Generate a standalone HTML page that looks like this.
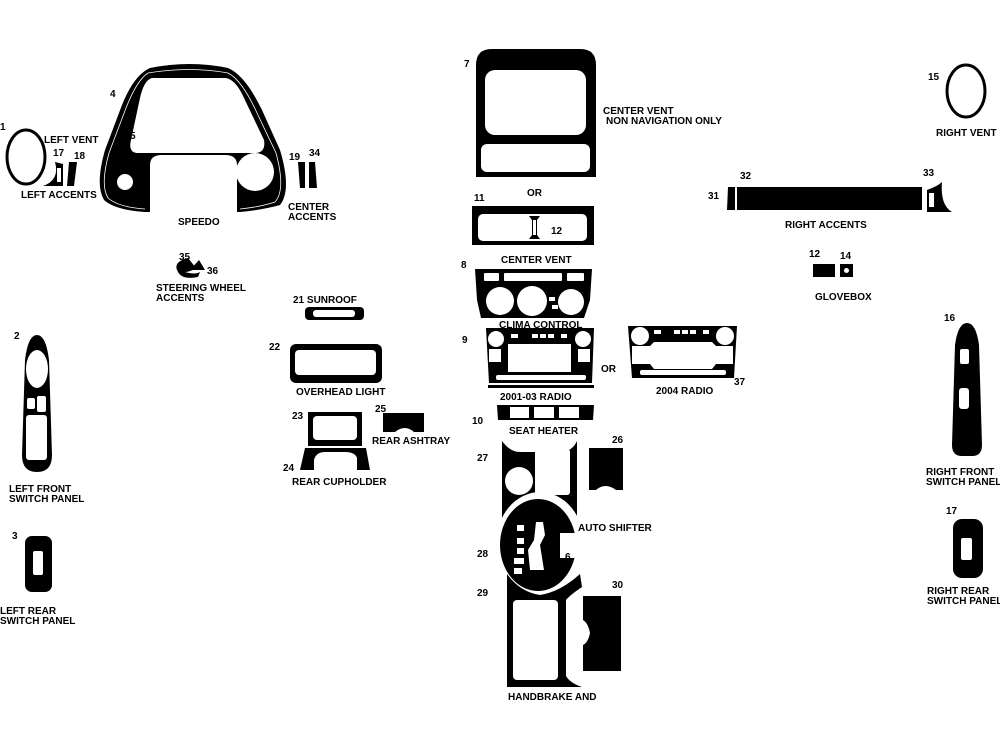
<!DOCTYPE html>
<html><head><meta charset="utf-8"><style>
html,body{margin:0;padding:0;background:#fff;}
svg{display:block;}
text{font-family:"Liberation Sans",sans-serif;font-weight:bold;font-size:10px;fill:#000;}
</style></head><body>
<svg width="1000" height="750" viewBox="0 0 1000 750" xmlns="http://www.w3.org/2000/svg">
<!-- left vent -->
<ellipse cx="26" cy="157" rx="19" ry="27" fill="none" stroke="#000" stroke-width="3"/>
<text x="0" y="130">1</text>
<text x="44" y="143">LEFT VENT</text>
<text x="53" y="156">17</text><text x="74" y="159">18</text>
<path d="M55 162 Q60 180 43 186 L63 186 L63 164 Z" fill="#000"/>
<rect x="57" y="168" width="4" height="14" fill="#fff"/>
<path d="M69 162 L77 162 L74 186 L67 186 Z" fill="#000"/>
<text x="21" y="198">LEFT ACCENTS</text>
<!-- speedo -->
<path d="M150 68 Q190 60 228 68 Q245 75 262 110 L280 150 Q292 190 280 205 Q262 210 240 212 L237 212 L237 165 Q237 155 225 155 L162 155 Q150 155 150 165 L150 212 L145 212 Q115 210 104 200 Q95 185 105 150 L122 105 Q134 75 150 68 Z" fill="#000"/>
<path d="M148 73 Q190 66 228 73 Q242 80 257 113 L276 153 Q286 190 275 202 Q260 207 240 209" fill="none" stroke="#fff" stroke-width="0.8"/>
<path d="M145 209 Q118 207 108 198 Q100 185 109 153 L126 108 Q137 80 148 73" fill="none" stroke="#fff" stroke-width="0.8"/>
<path d="M152 78 L226 78 Q236 80 244 98 L264 140 Q266 152 256 153 L137 153 Q128 152 131 140 L140 98 Q144 80 152 78 Z" fill="#fff"/>
<circle cx="125" cy="182" r="8" fill="#fff"/>
<circle cx="255" cy="172" r="19" fill="#fff"/>
<text x="110" y="97">4</text><text x="130" y="139">5</text>
<text x="178" y="225">SPEEDO</text>
<!-- center accents -->
<path d="M298 162 L305 162 L305 188 L300 188 Z" fill="#000"/>
<path d="M309 162 L315 162 L317 188 L309 188 Z" fill="#000"/>
<text x="289" y="160">19</text><text x="309" y="156">34</text>
<text x="288" y="210">CENTER</text><text x="288" y="220">ACCENTS</text>
<!-- steering -->
<path d="M178 272 Q172 262 188 258 L196 268 Q190 272 185 272 Q195 275 200 272 L198 277 Q182 280 178 272 Z" fill="#000"/>
<path d="M190 270 L199 260 L205 270 Z" fill="#000"/>
<text x="179" y="260">35</text><text x="207" y="274">36</text>
<text x="156" y="291">STEERING WHEEL</text><text x="156" y="301">ACCENTS</text>
<!-- sunroof -->
<text x="293" y="303">21 SUNROOF</text>
<rect x="305" y="307" width="59" height="13" rx="4" fill="#000"/>
<rect x="313" y="310" width="42" height="7" rx="3" fill="#fff"/>
<!-- overhead -->
<text x="269" y="350">22</text>
<rect x="290" y="344" width="92" height="39" rx="6" fill="#000"/>
<rect x="295" y="350" width="81" height="25" rx="4" fill="#fff"/>
<text x="296" y="395">OVERHEAD LIGHT</text>
<!-- cupholder -->
<text x="292" y="419">23</text>
<path d="M308 412 L362 412 L362 446 L308 446 Z" fill="#000"/>
<rect x="313" y="416" width="44" height="24" rx="4" fill="#fff"/>
<path d="M305 448 L366 448 L370 470 L357 470 L357 458 Q355 452 345 452 L325 452 Q316 452 314 460 L314 470 L300 470 Z" fill="#000"/>
<text x="283" y="471">24</text>
<text x="292" y="485">REAR CUPHOLDER</text>
<text x="375" y="412">25</text>
<path d="M383 413 L424 413 L424 432 L414 432 Q405 424 395 432 L383 432 Z" fill="#000"/>
<text x="372" y="444">REAR ASHTRAY</text>
<!-- left front switch -->
<text x="14" y="339">2</text>
<path d="M37 335 Q46 335 49 360 L52 455 Q52 472 37 472 Q22 472 22 455 L25 360 Q28 335 37 335 Z" fill="#000"/>
<ellipse cx="37" cy="369" rx="11" ry="19" fill="#fff"/>
<rect x="27" y="398" width="8" height="11" rx="2" fill="#fff"/>
<rect x="37" y="396" width="9" height="16" rx="2" fill="#fff"/>
<rect x="26" y="415" width="21" height="45" rx="3" fill="#fff"/>
<text x="9" y="492">LEFT FRONT</text><text x="9" y="502">SWITCH PANEL</text>
<!-- left rear -->
<text x="12" y="539">3</text>
<rect x="25" y="536" width="27" height="56" rx="7" fill="#000"/>
<rect x="33" y="551" width="10" height="24" rx="2" fill="#fff"/>
<text x="0" y="614">LEFT REAR</text><text x="0" y="624">SWITCH PANEL</text>
<!-- center vent 7 -->
<text x="464" y="67">7</text>
<path d="M476 177 L476 65 Q476 49 492 49 L580 49 Q596 49 596 65 L596 177 Z" fill="#000"/>
<rect x="485" y="70" width="101" height="65" rx="10" fill="#fff"/>
<rect x="481" y="144" width="109" height="28" rx="6" fill="#fff"/>
<text x="603" y="114">CENTER VENT</text><text x="606" y="124">NON NAVIGATION ONLY</text>
<text x="527" y="196">OR</text><text x="474" y="201">11</text>
<!-- center vent 11 -->
<rect x="472" y="206" width="122" height="39" fill="#000"/>
<rect x="478" y="214" width="109" height="27" rx="5" fill="#fff"/>
<path d="M529 216 L540 216 L537 220 L537 235 L540 239 L529 239 L532 235 L532 220 Z" fill="#000"/>
<rect x="533" y="220" width="3" height="15" fill="#fff"/>
<text x="551" y="234">12</text>
<text x="501" y="263">CENTER VENT</text>
<!-- clima -->
<text x="461" y="268">8</text>
<path d="M475 269 L592 269 L590 300 L584 318 L481 318 L477 300 Z" fill="#000"/>
<rect x="484" y="273" width="15" height="8" rx="1" fill="#fff"/>
<rect x="504" y="273" width="58" height="8" rx="1" fill="#fff"/>
<rect x="567" y="273" width="17" height="8" rx="1" fill="#fff"/>
<circle cx="500" cy="301" r="14" fill="#fff"/>
<circle cx="532" cy="301" r="15" fill="#fff"/>
<circle cx="571" cy="302" r="13" fill="#fff"/>
<rect x="549" y="297" width="6" height="4" fill="#fff"/>
<rect x="552" y="305" width="6" height="4" fill="#fff"/>
<text x="499" y="328">CLIMA CONTROL</text>
<!-- radio 01-03 -->
<text x="462" y="343">9</text>
<path d="M486 328 L594 328 L592 383 L489 383 Z" fill="#000"/>
<rect x="488" y="385" width="106" height="3" fill="#000"/>
<circle cx="496" cy="339" r="8" fill="#fff"/>
<circle cx="583" cy="339" r="8" fill="#fff"/>
<rect x="511" y="334" width="7" height="4" fill="#fff"/>
<rect x="532" y="334" width="6" height="4" fill="#fff"/><rect x="540" y="334" width="6" height="4" fill="#fff"/><rect x="548" y="334" width="6" height="4" fill="#fff"/><rect x="561" y="334" width="6" height="4" fill="#fff"/>
<rect x="508" y="344" width="63" height="28" fill="#fff"/>
<rect x="489" y="349" width="12" height="13" fill="#fff"/>
<rect x="578" y="349" width="12" height="13" fill="#fff"/>
<rect x="496" y="375" width="90" height="5" rx="2" fill="#fff"/>
<text x="500" y="400">2001-03 RADIO</text>
<text x="601" y="372">OR</text>
<!-- 2004 radio -->
<path d="M628 326 L737 326 L734 378 L632 378 Z" fill="#000"/>
<circle cx="640" cy="336" r="9" fill="#fff"/>
<circle cx="725" cy="336" r="9" fill="#fff"/>
<rect x="654" y="330" width="7" height="4" fill="#fff"/>
<rect x="674" y="330" width="6" height="4" fill="#fff"/><rect x="682" y="330" width="6" height="4" fill="#fff"/><rect x="690" y="330" width="6" height="4" fill="#fff"/><rect x="703" y="330" width="6" height="4" fill="#fff"/>
<path d="M632 346 L650 346 L654 342 L712 342 L716 346 L733 346 L733 364 L716 364 L712 369 L654 369 L650 364 L632 364 Z" fill="#fff"/>
<rect x="640" y="370" width="86" height="5" rx="2" fill="#fff"/>
<text x="734" y="385">37</text>
<text x="656" y="394">2004 RADIO</text>
<!-- seat heater -->
<path d="M497 405 L594 405 L593 420 L498 420 Z" fill="#000"/>
<rect x="510" y="407" width="19" height="11" fill="#fff"/>
<rect x="534" y="407" width="20" height="11" fill="#fff"/>
<rect x="559" y="407" width="20" height="11" fill="#fff"/>
<text x="472" y="424">10</text>
<text x="509" y="434">SEAT HEATER</text>
<!-- 27 -->
<text x="477" y="461">27</text>
<path d="M502 441 Q510 452 520 452 L560 452 Q572 452 577 441 L577 520 L502 520 Z" fill="#000"/>
<rect x="535" y="449" width="35" height="46" rx="3" fill="#fff"/>
<circle cx="519" cy="481" r="14" fill="#fff"/>
<!-- 26 -->
<text x="612" y="443">26</text>
<path d="M589 448 L623 448 L623 490 L616 490 Q605 482 596 490 L589 490 Z" fill="#000"/>
<!-- shifter -->
<ellipse cx="540" cy="544" rx="44" ry="52" fill="#fff"/>
<ellipse cx="538" cy="545" rx="38" ry="46" fill="#000"/>
<rect x="560" y="533" width="20" height="25" fill="#fff"/>
<path d="M536 522 L543 522 L545 535 L540 545 L544 570 L530 570 L528 550 L534 540 Z" fill="#fff"/>
<rect x="517" y="525" width="7" height="6" fill="#fff"/>
<rect x="517" y="538" width="7" height="6" fill="#fff"/>
<rect x="517" y="548" width="7" height="6" fill="#fff"/>
<rect x="514" y="558" width="10" height="6" fill="#fff"/>
<rect x="514" y="568" width="8" height="6" fill="#fff"/>
<text x="578" y="531">AUTO SHIFTER</text>
<text x="565" y="560">6</text>
<text x="477" y="557">28</text>
<!-- 29 -->
<text x="477" y="596">29</text>
<path d="M507 574 Q520 592 540 595 Q560 592 580 574 L582 587 Q570 595 566 600 L566 676 Q570 683 582 687 L507 687 Z" fill="#000"/>
<rect x="513" y="600" width="45" height="80" rx="4" fill="#fff"/>
<!-- 30 -->
<text x="612" y="588">30</text>
<path d="M583 596 L621 596 L621 671 L583 671 L583 645 Q588 643 590 633 Q588 623 583 620 Z" fill="#000"/>
<text x="508" y="700">HANDBRAKE AND</text>
<!-- right vent -->
<text x="928" y="80">15</text>
<ellipse cx="966" cy="91" rx="19" ry="26" fill="none" stroke="#000" stroke-width="3"/>
<text x="936" y="136">RIGHT VENT</text>
<!-- right accents -->
<text x="708" y="199">31</text><text x="740" y="179">32</text><text x="923" y="176">33</text>
<path d="M728 187 L735 187 L735 210 L727 210 Z" fill="#000"/>
<rect x="737" y="187" width="185" height="23" fill="#000"/>
<path d="M927 190 Q938 186 942 182 Q940 205 952 212 L927 212 Z" fill="#000"/>
<rect x="929" y="193" width="5" height="14" fill="#fff"/>
<text x="785" y="228">RIGHT ACCENTS</text>
<!-- glovebox -->
<text x="809" y="257">12</text><text x="840" y="259">14</text>
<rect x="813" y="264" width="22" height="13" fill="#000"/>
<rect x="840" y="264" width="13" height="13" fill="#000"/>
<circle cx="846.5" cy="270.5" r="2.5" fill="#fff"/>
<text x="815" y="300">GLOVEBOX</text>
<!-- right front -->
<text x="944" y="321">16</text>
<path d="M967 323 Q976 323 979 345 L982 445 Q982 456 972 456 L962 456 Q952 456 952 445 L955 345 Q958 323 967 323 Z" fill="#000"/>
<rect x="960" y="349" width="9" height="15" rx="2" fill="#fff"/>
<rect x="959" y="388" width="10" height="21" rx="3" fill="#fff"/>
<text x="926" y="475">RIGHT FRONT</text><text x="926" y="485">SWITCH PANEL</text>
<!-- right rear -->
<text x="946" y="514">17</text>
<rect x="953" y="519" width="30" height="59" rx="9" fill="#000"/>
<rect x="961" y="538" width="11" height="22" rx="2" fill="#fff"/>
<text x="927" y="594">RIGHT REAR</text><text x="927" y="604">SWITCH PANEL</text>
</svg>
</body></html>
